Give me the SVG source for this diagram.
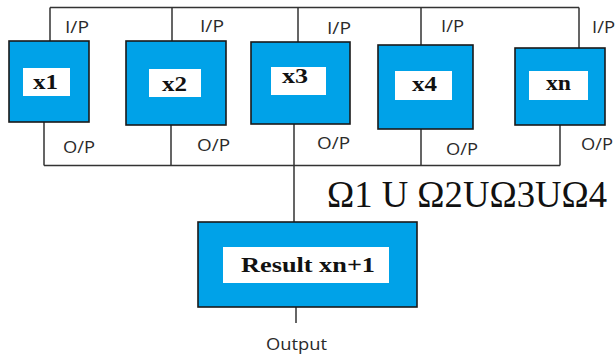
<svg xmlns="http://www.w3.org/2000/svg" width="616" height="358" viewBox="0 0 616 358">
<style>
.box{fill:#00a2e8;stroke:#1a1a1a;stroke-width:1.6}
.inner{fill:#ffffff}
.nt{font-family:"Liberation Serif",serif;font-weight:bold;fill:#111;font-size:21px}
.lbl{font-family:"Open Sans","Liberation Sans",sans-serif;fill:#2a2a2a;font-size:16.5px}
.wire{stroke:#333;stroke-width:1.5;fill:none}
</style>
<rect width="616" height="358" fill="#ffffff"/>
<g id="connectors">
<path class="wire" d="M50,7.5 H579"/>
<path class="wire" d="M50,7.5 V41 M172,7.5 V41 M298,7.5 V42 M421,7.5 V45 M579,7.5 V51"/>
<path class="wire" d="M44,122 V165.5 M171,125 V165.5 M294,124 V222 M421,129 V165.5 M560,125 V165.5 M44,165.5 H560"/>
<path class="wire" d="M296,307 V323"/>
</g>
<g id="labels">
<text class="lbl" x="65" y="33" textLength="24" lengthAdjust="spacingAndGlyphs">I/P</text>
<text class="lbl" x="200" y="32" textLength="24" lengthAdjust="spacingAndGlyphs">I/P</text>
<text class="lbl" x="327" y="34" textLength="24" lengthAdjust="spacingAndGlyphs">I/P</text>
<text class="lbl" x="441" y="32" textLength="23" lengthAdjust="spacingAndGlyphs">I/P</text>
<text class="lbl" x="592" y="33" textLength="23" lengthAdjust="spacingAndGlyphs">I/P</text>
<text class="lbl" x="63" y="153" textLength="32" lengthAdjust="spacingAndGlyphs">O/P</text>
<text class="lbl" x="197" y="151" textLength="33" lengthAdjust="spacingAndGlyphs">O/P</text>
<text class="lbl" x="317" y="149" textLength="33" lengthAdjust="spacingAndGlyphs">O/P</text>
<text class="lbl" x="446" y="155" textLength="32" lengthAdjust="spacingAndGlyphs">O/P</text>
<text class="lbl" x="581" y="150" textLength="32" lengthAdjust="spacingAndGlyphs">O/P</text>
<text class="lbl" x="266" y="350" textLength="61" lengthAdjust="spacingAndGlyphs">Output</text>
<text x="327" y="207" font-family="'Liberation Serif',serif" font-size="37" fill="#111" textLength="280" lengthAdjust="spacingAndGlyphs">Ω1 U Ω2UΩ3UΩ4</text>
</g>
<g id="node-x1">
<rect class="box" x="9" y="41" width="80" height="81"/>
<rect class="inner" x="23" y="68" width="47" height="28"/>
<text class="nt" x="33" y="89" textLength="25" lengthAdjust="spacingAndGlyphs">x1</text>
</g>
<g id="node-x2">
<rect class="box" x="126" y="41" width="100" height="84"/>
<rect class="inner" x="149" y="69" width="52" height="28"/>
<text class="nt" x="162" y="91" textLength="25" lengthAdjust="spacingAndGlyphs">x2</text>
</g>
<g id="node-x3">
<rect class="box" x="251" y="42" width="99" height="82"/>
<rect class="inner" x="271" y="67" width="55" height="28"/>
<text class="nt" x="282" y="83" textLength="26" lengthAdjust="spacingAndGlyphs">x3</text>
</g>
<g id="node-x4">
<rect class="box" x="378" y="45" width="95" height="84"/>
<rect class="inner" x="395" y="71" width="57" height="29"/>
<text class="nt" x="412" y="91" textLength="25" lengthAdjust="spacingAndGlyphs">x4</text>
</g>
<g id="node-xn">
<rect class="box" x="515" y="48" width="90" height="77"/>
<rect class="inner" x="529" y="71" width="59" height="29"/>
<text class="nt" x="546" y="90" textLength="25" lengthAdjust="spacingAndGlyphs">xn</text>
</g>
<g id="node-result">
<rect class="box" x="198" y="222" width="219" height="85"/>
<rect class="inner" x="223" y="247" width="166" height="36"/>
<text class="nt" x="241" y="272" font-size="25" textLength="134" lengthAdjust="spacingAndGlyphs">Result xn+1</text>
</g>
</svg>
